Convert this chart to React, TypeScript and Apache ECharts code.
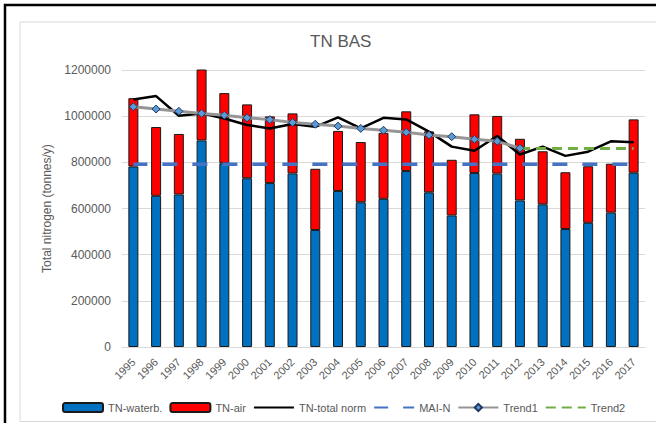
import React, { useEffect, useRef } from "react";
import * as echarts from "echarts";

const years = ["1995","1996","1997","1998","1999","2000","2001","2002","2003","2004","2005","2006","2007","2008","2009","2010","2011","2012","2013","2014","2015","2016","2017"];
const tnWaterb = [782000,655000,661000,895000,796000,731000,710000,752000,507000,676000,627000,642000,762000,670000,570000,754000,751000,635000,618000,511000,538000,582000,755000];
const tnAir = [296000,298000,262000,335000,304000,320000,289000,260000,265000,260000,261000,286000,259000,264000,241000,254000,250000,267000,230000,246000,245000,212000,231000];
const tnTotalNorm = [1072000,1087000,1002000,1012000,990000,962000,947000,966000,954000,995000,947000,993000,986000,933000,868000,850000,914000,834000,868000,828000,846000,891000,887000];
const maiN = [792000,792000,792000,792000,792000,792000,792000,792000,792000,792000,792000,792000,792000,792000,792000,792000,792000,792000,792000,792000,792000,792000,792000];
const trend1 = [1041000,1031000,1021000,1012000,1004000,993000,985000,973000,965000,957000,947000,939000,930000,918000,911000,900000,891000,861000,null,null,null,null,null];
const trend2 = [null,null,null,null,null,null,null,null,null,null,null,null,null,null,null,null,null,860000,860000,860000,860000,860000,860000];

const FONT = "'Liberation Sans', Arial, sans-serif";
const GRAY = "#595959";
const HIDDEN = { color: "transparent", borderColor: "transparent", borderWidth: 0, opacity: 0 };

export default function App() {
  const ref = useRef<HTMLDivElement>(null);
  useEffect(() => {
    if (!ref.current) return;
    const chart = echarts.init(ref.current, null, { renderer: "svg" });
    chart.setOption({
      animation: false,
      backgroundColor: "#ffffff",
      textStyle: { fontFamily: FONT },
      graphic: [
        { type: "rect", shape: { x: 20, y: 22, width: 700, height: 399.5 }, style: { fill: "none", stroke: "#D9D9D9", lineWidth: 1 }, silent: true },
        { type: "rect", shape: { x: 5, y: 5, width: 700, height: 700 }, style: { fill: "none", stroke: "#000000", lineWidth: 2.5 }, silent: true },
        { type: "text", left: 310, top: 33, style: { text: "TN BAS", fill: GRAY, font: "17px " + FONT } },
      ],
      grid: { left: 122, right: 11, top: 70, bottom: 76, containLabel: false },
      legend: {
        left: 57,
        top: 397,
        itemWidth: 40,
        itemHeight: 9,
        itemGap: 7,
        textStyle: { fontSize: 11, color: GRAY, fontFamily: FONT },
        data: [
          { name: "TN-waterb." },
          { name: "TN-air" },
          { name: "TN-total norm", itemStyle: HIDDEN },
          { name: "MAI-N", itemStyle: HIDDEN },
          { name: "Trend1" },
          { name: "Trend2", itemStyle: HIDDEN },
        ],
      },
      xAxis: {
        type: "category",
        data: years,
        axisLine: { lineStyle: { color: "#D9D9D9" } },
        axisTick: { show: false },
        axisLabel: { rotate: 45, interval: 0, fontSize: 11, color: GRAY, margin: 13 },
      },
      yAxis: {
        type: "value",
        min: 0,
        max: 1200000,
        interval: 200000,
        name: "Total nitrogen (tonnes/y)",
        nameLocation: "middle",
        nameGap: 68,
        nameTextStyle: { fontSize: 12, color: GRAY },
        axisLine: { show: false },
        axisTick: { show: false },
        splitLine: { lineStyle: { color: "#D9D9D9" } },
        axisLabel: { fontSize: 12, color: GRAY, margin: 11, formatter: (v: number) => String(v) },
      },
      series: [
        { name: "TN-waterb.", type: "bar", stack: "tn", data: tnWaterb, barWidth: 10, itemStyle: { color: "#0070C0", borderColor: "#1a1a1a", borderWidth: 1 } },
        { name: "TN-air", type: "bar", stack: "tn", data: tnAir, barWidth: 10, itemStyle: { color: "#FF0000", borderColor: "#1a1a1a", borderWidth: 1 } },
        { name: "TN-total norm", type: "line", data: tnTotalNorm, symbol: "none", lineStyle: { color: "#000000", width: 2.5 }, itemStyle: { color: "#000000" }, z: 5 },
        { name: "MAI-N", type: "line", data: maiN, symbol: "none", lineStyle: { color: "#4472C4", width: 3.5, type: [15, 15], dashOffset: 1 }, itemStyle: { color: "#4472C4" }, z: 4 },
        { name: "Trend1", type: "line", data: trend1, symbol: "diamond", symbolSize: 8, showAllSymbol: true, lineStyle: { color: "#969696", width: 3 }, itemStyle: { color: "#5B9BD5", borderColor: "#1F3864", borderWidth: 1 }, z: 6 },
        { name: "Trend2", type: "line", data: trend2, symbol: "none", lineStyle: { color: "#70AD47", width: 3, type: [10, 6] }, itemStyle: { color: "#70AD47" }, z: 6 },
      ],
    });
    return () => chart.dispose();
  }, []);
  return <div ref={ref} style={{ position: "fixed", left: 0, top: 0, width: 656, height: 423 }} />;
}
